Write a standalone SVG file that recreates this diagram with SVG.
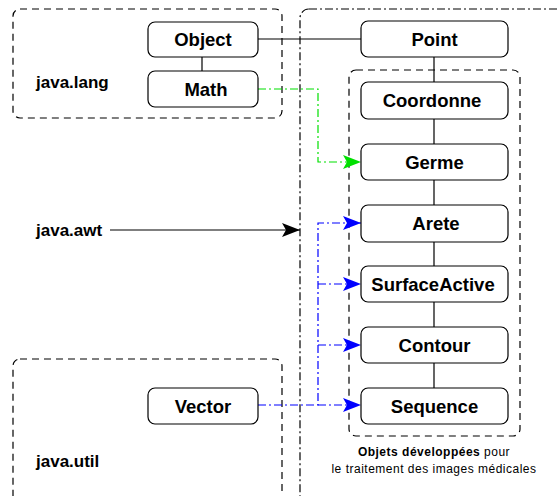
<svg xmlns="http://www.w3.org/2000/svg" width="557" height="496" viewBox="0 0 557 496">
<defs>
<style>
.node rect{fill:#fff;stroke:#000;stroke-width:1.2}
.node text{font-family:"Liberation Sans",Arial,sans-serif;font-weight:bold;font-size:18.5px;text-anchor:middle}
.pkg{fill:none;stroke:#000;stroke-width:1.2;stroke-dasharray:7,5}
.lbl{font-family:"Liberation Sans",Arial,sans-serif;font-weight:bold;font-size:17px}
.cap{font-family:"Liberation Sans",Arial,sans-serif;font-size:12px;letter-spacing:0.5px;text-anchor:middle}
.solid{fill:none;stroke:#000;stroke-width:1.2}
.green{fill:none;stroke:#00e000;stroke-width:1.2;stroke-dasharray:8,3,2,3}
.blue{fill:none;stroke:#0000ff;stroke-width:1.2;stroke-dasharray:8,3,2,3}
</style>
<marker id="ab" markerWidth="20" markerHeight="14" refX="18" refY="7" orient="auto" markerUnits="userSpaceOnUse"><path d="M0,0 L18,7 L0,14 L4,7 Z" fill="#000"/></marker>
<marker id="ag" markerWidth="20" markerHeight="14" refX="18" refY="7" orient="auto" markerUnits="userSpaceOnUse"><path d="M0,0 L18,7 L0,14 L4,7 Z" fill="#00e000"/></marker>
<marker id="abl" markerWidth="20" markerHeight="14" refX="18" refY="7" orient="auto" markerUnits="userSpaceOnUse"><path d="M0,0 L18,7 L0,14 L4,7 Z" fill="#0000ff"/></marker>
</defs>
<rect width="557" height="496" fill="#fff"/>
<g id="packages">
<rect class="pkg" x="13" y="9" width="269" height="109" rx="7"/>
<rect class="pkg" x="13" y="359" width="269" height="150" rx="7"/>
<rect x="300" y="9" width="280" height="500" rx="9" fill="none" stroke="#000" stroke-width="1.2" stroke-dasharray="8,3,2,3"/>
<rect class="pkg" x="349" y="70" width="171" height="366" rx="7"/>
<text class="lbl" x="36" y="88">java.lang</text>
<text class="lbl" x="36" y="236">java.awt</text>
<text class="lbl" x="36" y="467">java.util</text>
<text class="cap" x="434" y="456"><tspan font-weight="bold">Objets développées</tspan> pour</text>
<text class="cap" x="434" y="473">le traitement des images médicales</text>
</g>
<g id="connectors">
<path class="solid" d="M202,57 V71"/>
<path class="solid" d="M258,39 H361"/>
<path class="solid" d="M434,57 V82 M434,119 V144 M434,180 V205 M434,242 V266 M434,302 V327 M434,363 V388"/>
<path class="solid" d="M110,230 H300" marker-end="url(#ab)"/>
<path class="green" d="M258,89 H318 V162 H361" marker-end="url(#ag)"/>
<path class="blue" d="M258,405 H318 V223 H361" marker-end="url(#abl)"/>
<path class="blue" d="M318,284 H361" marker-end="url(#abl)"/>
<path class="blue" d="M318,345 H361" marker-end="url(#abl)"/>
<path class="blue" d="M318,405 H361" marker-end="url(#abl)"/>
</g>
<g id="Object" class="node"><rect x="148" y="22" width="110" height="35" rx="7"/><text x="203" y="46">Object</text></g>
<g id="Math" class="node"><rect x="148" y="71" width="110" height="36" rx="7"/><text x="206" y="96">Math</text></g>
<g id="Vector" class="node"><rect x="148" y="388" width="110" height="36" rx="7"/><text x="203" y="413">Vector</text></g>
<g id="Point" class="node"><rect x="361" y="21" width="147" height="36" rx="7"/><text x="434.5" y="46">Point</text></g>
<g id="Coordonne" class="node"><rect x="361" y="82" width="147" height="37" rx="7"/><text x="432" y="107">Coordonne</text></g>
<g id="Germe" class="node"><rect x="361" y="144" width="147" height="36" rx="7"/><text x="434.5" y="169">Germe</text></g>
<g id="Arete" class="node"><rect x="361" y="205" width="147" height="37" rx="7"/><text x="436" y="230">Arete</text></g>
<g id="SurfaceActive" class="node"><rect x="361" y="266" width="147" height="36" rx="7"/><text x="433" y="291">SurfaceActive</text></g>
<g id="Contour" class="node"><rect x="361" y="327" width="147" height="36" rx="7"/><text x="434.5" y="352">Contour</text></g>
<g id="Sequence" class="node"><rect x="361" y="388" width="147" height="36" rx="7"/><text x="434.5" y="413">Sequence</text></g>
</svg>
